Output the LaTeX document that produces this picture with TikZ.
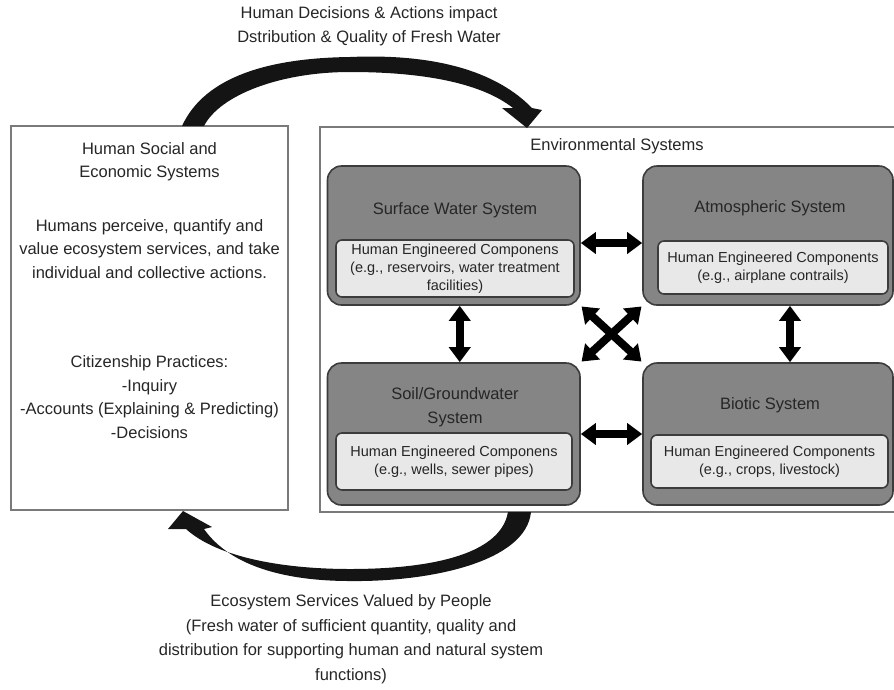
\documentclass[tikz,border=0pt]{standalone}
\usepackage{fontspec}
\setmainfont{Liberation Sans}
\usetikzlibrary{arrows.meta}
\definecolor{txt}{HTML}{262626}
\definecolor{sysfill}{HTML}{858585}
\definecolor{sysedge}{HTML}{3C3C3C}
\definecolor{compfill}{HTML}{E8E8E8}
\definecolor{frame}{HTML}{7A7A7A}

\begin{document}
\begin{tikzpicture}[x=1pt,y=-1pt,
  every node/.style={text=txt, font=\fontsize{16.5}{23.5}\selectfont, inner sep=0pt},
  label text/.style={align=center},
  panel/.style={draw=frame, line width=1.2pt, fill=white},
  sysbox/.style={draw=sysedge, fill=sysfill, line width=1.6pt, rounded corners=14pt},
  compbox/.style={draw=sysedge, fill=compfill, line width=1.6pt, rounded corners=6pt,
    font=\fontsize{14.5}{18}\selectfont, align=center},
  link/.style={line width=8pt, {Triangle[width=21pt,length=15pt]}-{Triangle[width=21pt,length=15pt]}},
  bigarrow/.style={fill=black!92}
]
\useasboundingbox (0,0) rectangle (894,689);

% outer panels
\node[panel, minimum width=277pt, minimum height=384pt] (human) at (149.5,318) {};
\node[panel, minimum width=590pt, minimum height=385pt] (env) at (615,319.5) {};

% human systems panel text
\node[label text] (hstitle) at (149.5,161.5) {Human Social and\\Economic Systems};
\node[label text] (hsbody) at (149.5,249) {Humans perceive, quantify and\\value ecosystem services, and take\\individual and collective actions.};
\node[label text] (hspractice) at (149.5,397) {Citizenship Practices:\\-Inquiry\\-Accounts (Explaining \& Predicting)\\-Decisions};

% environmental systems panel
\node (envtitle) at (617,146) {Environmental Systems};

\node[sysbox, minimum width=252.5pt, minimum height=139pt] (sw) at (453.75,235.5) {};
\node[sysbox, minimum width=250pt, minimum height=139pt] (at) at (768,235.5) {};
\node[sysbox, minimum width=252.5pt, minimum height=142pt] (soil) at (453.75,434) {};
\node[sysbox, minimum width=250pt, minimum height=142pt] (bio) at (768,434) {};

\node (swtitle) at (455,210) {Surface Water System};
\node (attitle) at (770,208) {Atmospheric System};
\node[label text] (soiltitle) at (455,407) {Soil/Groundwater\\System};
\node (biotitle) at (770,405) {Biotic System};

\node[compbox, minimum width=238pt, minimum height=57pt] (swi) at (455,268.5)
  {Human Engineered Componens\\(e.g., reservoirs, water treatment\\facilities)};
\node[compbox, minimum width=230pt, minimum height=53pt] (ati) at (773,267.5)
  {Human Engineered Components\\(e.g., airplane contrails)};
\node[compbox, minimum width=236pt, minimum height=57pt] (soili) at (454,461.5)
  {Human Engineered Componens\\(e.g., wells, sewer pipes)};
\node[compbox, minimum width=237pt, minimum height=53pt] (bioi) at (769.5,461.5)
  {Human Engineered Components\\(e.g., crops, livestock)};

% exchanges between the four systems
\draw[link] ([yshift=-7.5pt]sw.east) -- ([yshift=-7.5pt]at.west);
\draw[link] (soil.east) -- (bio.west);
\draw[link] ([xshift=6pt]sw.south) -- ([xshift=6pt]soil.north);
\draw[link] ([xshift=22pt]at.south) -- ([xshift=22pt]bio.north);
\draw[link, shorten <=1pt, shorten >=1pt] (sw.south east) -- (bio.north west);
\draw[link, shorten <=1pt, shorten >=1pt] (at.south west) -- (soil.north east);

% loop: human actions act on the environment
\fill[bigarrow] (182,126) .. controls (205,76) and (270,58) .. (350,57)
  .. controls (420,54) and (490,65) .. (532,108)
  -- (542,110) -- (527,128) -- (502,108) -- (513,108)
  .. controls (480,82) and (420,72) .. (350,72)
  .. controls (280,72) and (220,95) .. (204,126) -- cycle;

% loop: services flow back to people
\fill[bigarrow] (531,512) .. controls (526,562) and (430,582) .. (350,581)
  .. controls (285,581) and (230,566) .. (204,529)
  -- (212,527) -- (183,511) -- (168,529) -- (186,529)
  .. controls (218,558) and (285,569) .. (350,569)
  .. controls (420,569) and (500,558) .. (508,512) -- cycle;

\node[label text] (topnote) at (369,26)
  {Human Decisions \& Actions impact\\Dstribution \& Quality of Fresh Water};
\node[label text, font=\fontsize{16.5}{24.5}\selectfont] (bottomnote) at (351,639)
  {Ecosystem Services Valued by People\\(Fresh water of sufficient quantity, quality and\\distribution for supporting human and natural system\\functions)};
\end{tikzpicture}
\end{document}
